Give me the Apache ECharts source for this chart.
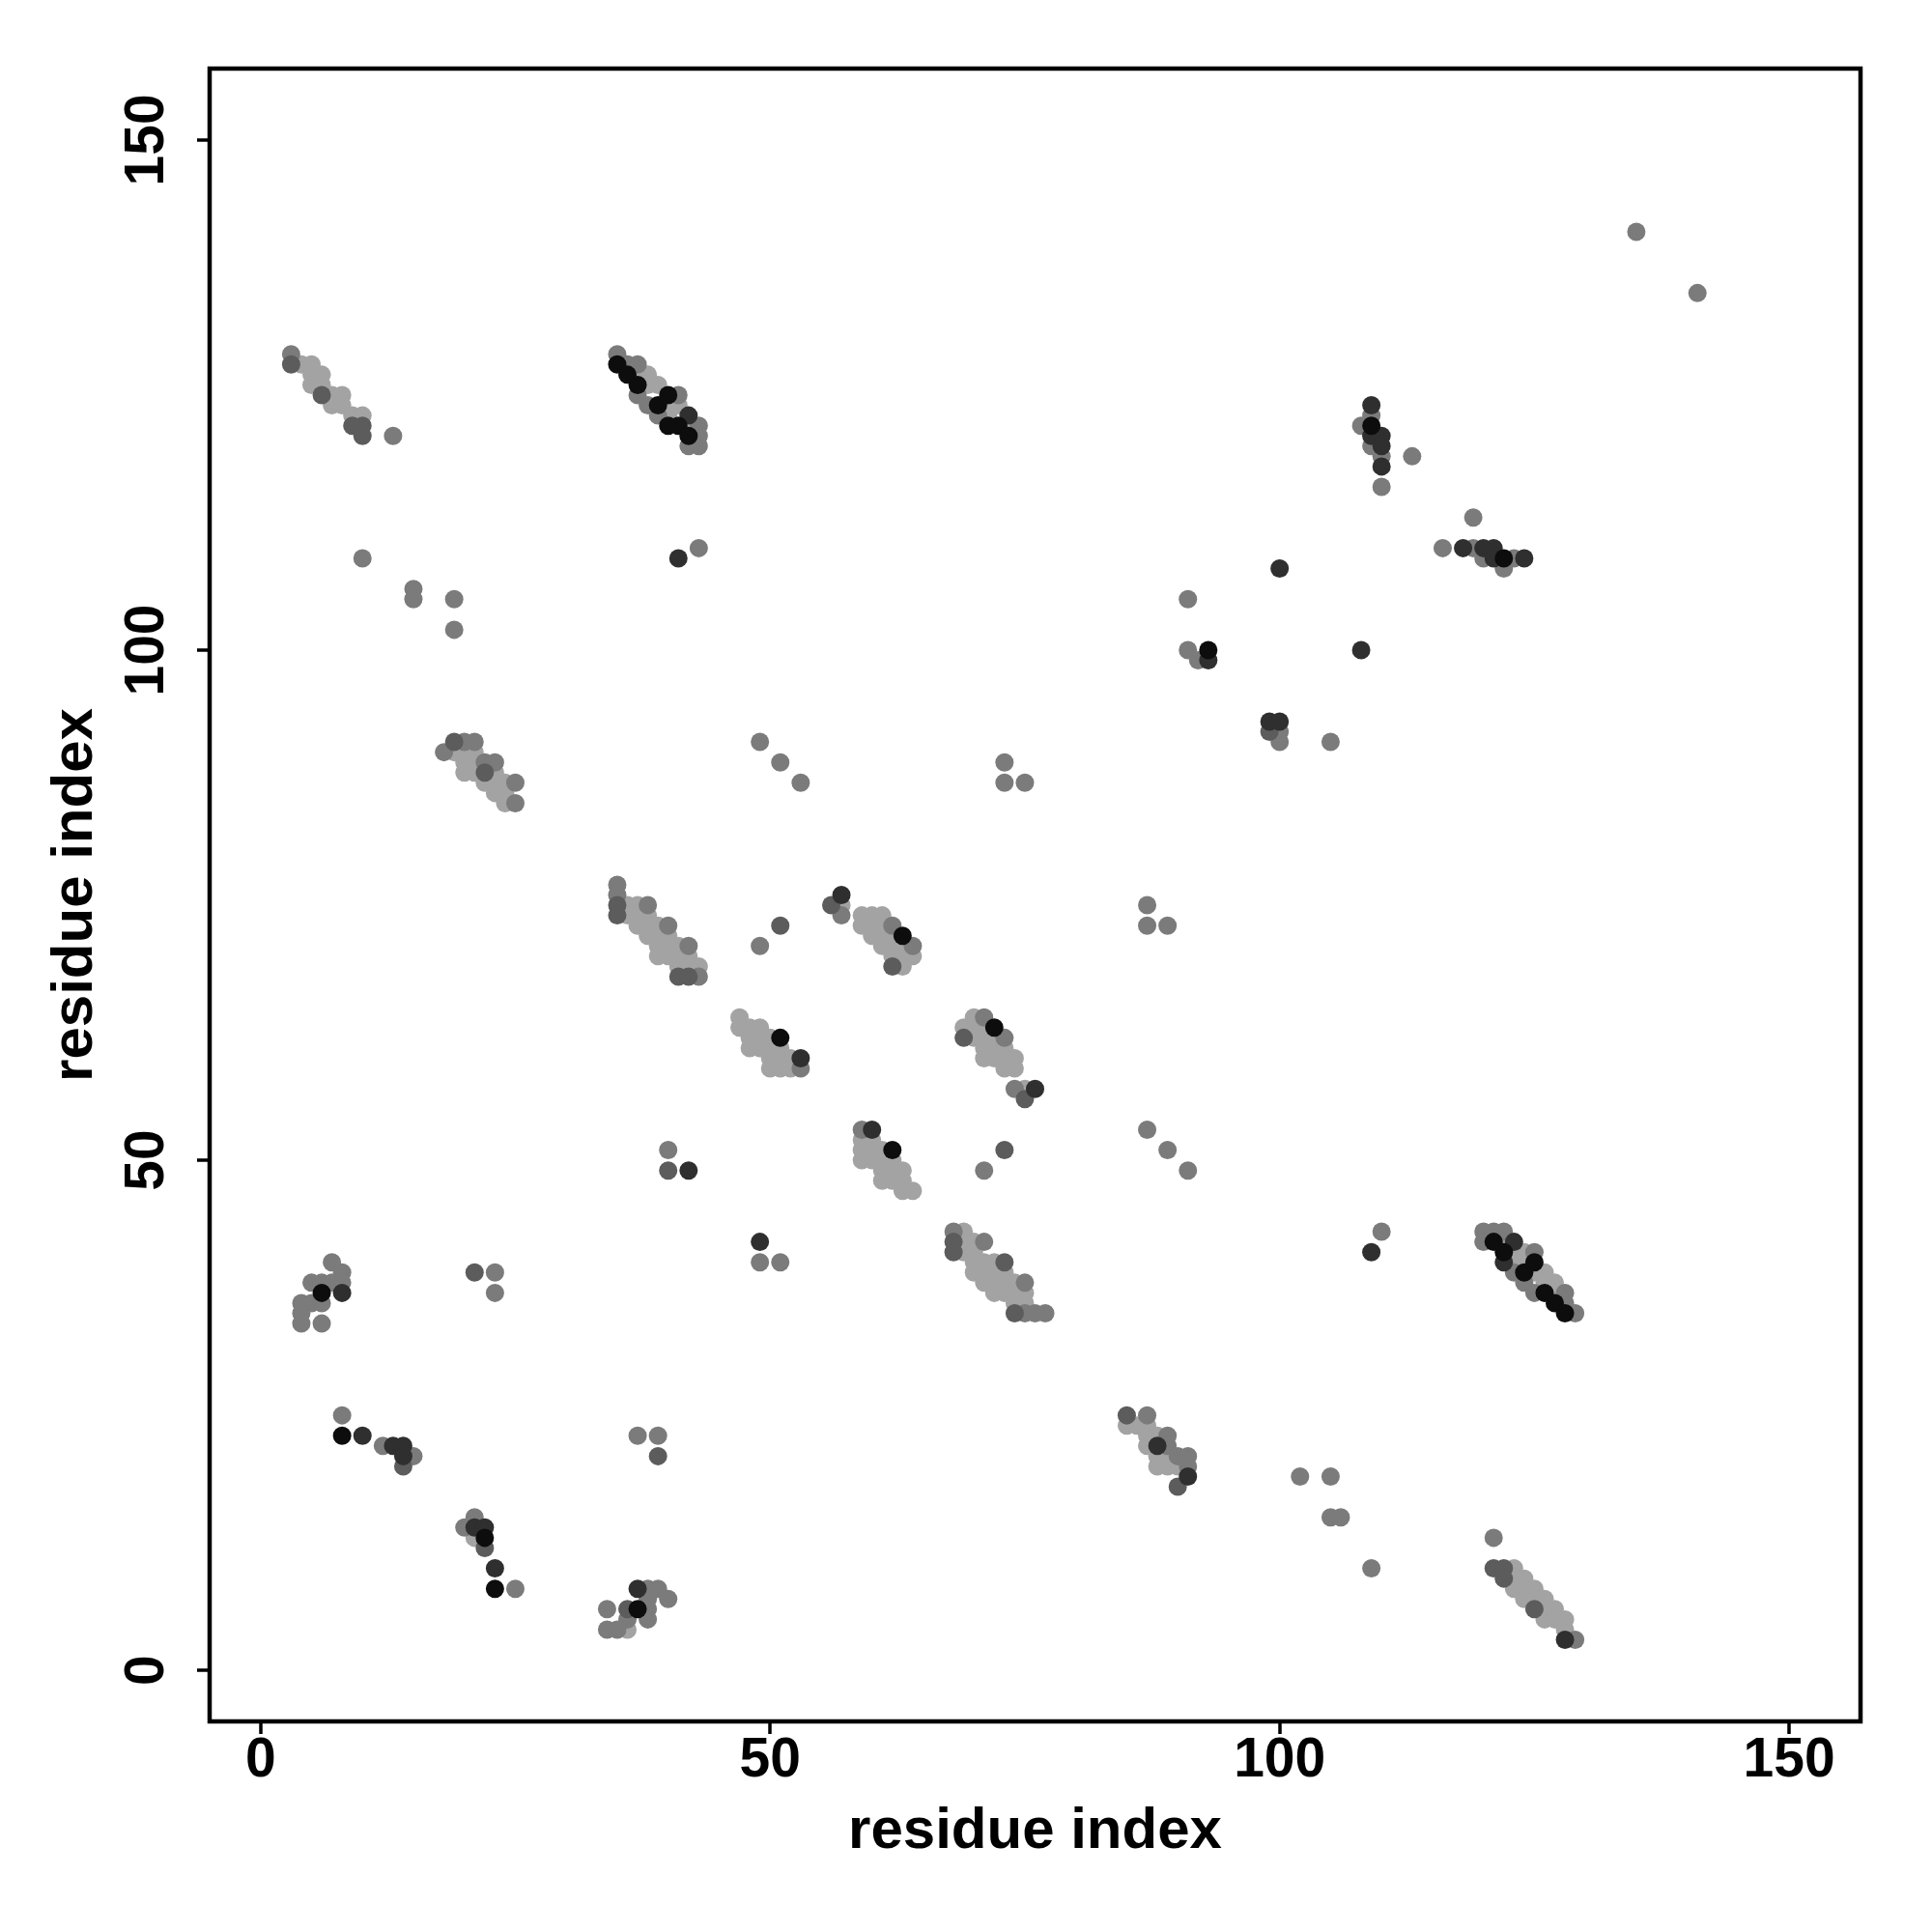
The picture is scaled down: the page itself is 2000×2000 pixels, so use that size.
<!DOCTYPE html>
<html>
<head>
<meta charset="utf-8">
<script src="https://cdn.jsdelivr.net/npm/echarts@6/dist/echarts.min.js"></script>
<style>html,body{margin:0;padding:0;background:#fff}#c{width:2000px;height:2000px}</style>
</head>
<body>
<div id="c"></div>
<script>
// contact points [i, j] grouped by shade
const lightPts = [
 [4,128],[5,128],[5,127],[6,127],[5,126],[6,126],[7,125],[8,125],[7,124],[8,124],[9,123],[10,123],
 [37,127],[38,127],[38,126],[39,126],[40,124],[40,123],[41,124],[42,122],
 [20,90],[21,90],[19,90],[20,89],[21,89],[20,88],[21,88],[23,88],[22,87],[23,87],[24,87],[24,86],[23,86],[24,85],
 [36,75],[37,75],[36,74],[37,74],[38,74],[37,73],[38,73],[39,73],[38,72],[39,72],[40,72],[39,71],[40,71],[41,71],[39,70],[40,70],[41,70],[42,70],[41,69],[42,69],[43,69],
 [57,75],[59,74],[60,74],[61,74],[59,73],[60,73],[61,73],[60,72],[61,72],[62,72],[61,71],[62,71],[63,71],[62,70],[63,70],[64,70],[63,69],
 [47,64],[47,63],[48,63],[49,63],[48,62],[49,62],[50,62],[48,61],[49,61],[50,61],[51,61],[50,60],[51,60],[52,60],[50,59],[51,59],[52,59],
 [70,64],[69,63],[70,63],[71,63],[70,62],[71,62],[72,62],[71,61],[72,61],[73,61],[71,60],[72,60],[73,60],[74,60],[73,59],[74,59],[75,57],
 [59,52],[60,52],[59,51],[60,51],[61,51],[59,50],[60,50],[61,50],[62,50],[61,49],[62,49],[63,49],[61,48],[62,48],[63,48],[63,47],[64,47],
 [69,43],[69,42],[70,42],[69,41],[70,41],[70,40],[71,40],[72,40],[70,39],[71,39],[72,39],[73,39],[71,38],[72,38],[73,38],[74,38],[72,37],[73,37],[74,37],[75,37],[74,36],[75,36],
 [122,42],[123,41],[124,41],[123,40],[124,40],[125,39],[126,39],[126,38],[127,38],[127,37],
 [21,13],[36,4],
 [85,24],[86,24],[87,24],[87,23],[88,23],[87,22],[88,21],[89,21],[88,20],[89,20],[90,20],
 [123,10],[123,9],[124,9],[123,8],[124,8],[125,8],[124,7],[125,7],[126,7],[126,6],[127,6],[126,5],[127,5],[128,5],[128,4]
];
const greyPts = [
 [3,129],[13,121],
 [35,129],[36,128],[37,128],[37,125],[38,124],[39,123],[41,125],[43,122],[43,121],[42,120],[43,120],
 [10,109],[15,106],[15,105],[19,105],[19,102],[43,110],
 [109,123],[108,122],[109,120],[110,119],[110,116],[113,119],[119,113],[116,110],[119,110],[120,109],[123,109],[122,108],
 [135,141],[141,135],
 [91,105],[91,100],[92,99],[100,92],[100,91],[105,91],
 [18,90],[20,91],[21,91],[22,89],[23,89],[25,87],[25,85],
 [49,91],[51,89],[53,87],[73,89],[73,87],[75,87],
 [35,77],[35,76],[38,75],[40,73],[42,71],[43,68],[49,71],
 [57,74],[62,73],[64,71],[87,75],[87,73],[89,73],
 [53,59],[71,64],[73,62],[74,57],[59,53],[71,49],[87,53],[89,51],[91,49],[40,51],[49,40],[51,40],
 [68,43],[71,42],[75,38],[75,35],[76,35],[77,35],
 [120,43],[121,43],[122,43],[120,42],[125,41],[123,39],[124,38],[125,37],[128,37],[128,36],[129,35],[110,43],
 [7,40],[8,39],[5,38],[6,38],[7,38],[8,38],[4,36],[5,36],[6,36],[4,35],[4,34],[6,34],
 [23,39],[23,37],[8,25],[12,22],[15,21],[21,15],[20,14],[25,8],[37,23],[39,23],
 [38,8],[39,8],[40,7],[38,7],[38,6],[38,5],[34,6],[36,5],[34,4],[35,4],
 [87,25],[89,23],[89,22],[90,21],[91,21],[91,20],
 [102,19],[105,19],[105,15],[106,15],[109,10],
 [121,13],[129,3]
];
const darkGreyPts = [
 [3,128],[6,125],[9,122],[10,122],[10,121],
 [99,92],[19,91],[22,88],[35,75],[35,74],[51,73],[56,75],[62,69],[41,68],[42,68],
 [69,62],[75,56],[73,51],[40,49],[68,42],[68,41],[73,40],[74,35],
 [21,39],[14,20],[22,12],[39,21],[36,6],[85,25],[90,18],
 [121,10],[122,10],[122,9],[125,6]
];
const darkPts = [
 [42,123],
 [109,124],[110,121],[109,121],[110,120],[110,118],[118,110],[120,110],[121,110],[121,109],[124,109],
 [100,108],[93,99],[108,100],[99,93],[100,93],[41,109],
 [57,76],[76,57],[60,53],[53,60],[42,49],[49,42],
 [8,37],[10,23],[13,22],[14,22],[14,21],[21,14],[22,14],[23,10],[37,8],
 [123,42],[122,40],[128,3],[109,41],[88,22],[91,19]
];
const blackPts = [
 [35,128],[36,127],[37,126],[39,124],[40,125],[40,122],[41,122],[42,121],
 [109,122],[122,109],[93,100],
 [63,72],[72,63],[51,62],[62,51],
 [6,37],[8,23],[22,13],[23,8],[37,6],
 [121,42],[122,41],[124,39],[126,37],[127,36],[128,35],[125,40]
];
const tickValues = [0, 50, 100, 150];
const axisTitle = 'residue index';

const shades = [
  [lightPts, '#a3a3a3'],
  [greyPts, '#7b7b7b'],
  [darkGreyPts, '#5c5c5c'],
  [darkPts, '#2f2f2f'],
  [blackPts, '#0d0d0d']
];

const font = 'Liberation Sans, Arial, Helvetica, sans-serif';
const chart = echarts.init(document.getElementById('c'), null, {renderer: 'canvas'});
const axisCommon = {
  type: 'value',
  min: -5, max: 157,
  splitLine: {show: false},
  axisLine: {show: false, onZero: false},
  axisTick: {show: true, customValues: tickValues, length: 13, lineStyle: {color: '#000', width: 3.5}},
  name: axisTitle,
  nameLocation: 'middle',
  nameTextStyle: {fontFamily: font, fontWeight: 'bold', fontSize: 60, color: '#000'}
};
chart.setOption({
  backgroundColor: '#fff',
  animation: false,
  grid: {left: 217, top: 71, width: 1709, height: 1711, show: true, borderColor: '#000', borderWidth: 4.5, backgroundColor: 'transparent'},
  xAxis: Object.assign({}, axisCommon, {
    position: 'bottom',
    nameGap: 84,
    axisLabel: {customValues: tickValues, margin: 13, fontFamily: font, fontWeight: 'bold', fontSize: 57, color: '#000'}
  }),
  yAxis: Object.assign({}, axisCommon, {
    position: 'left',
    nameGap: 109,
    axisLabel: {customValues: tickValues, rotate: 90, margin: 35, fontFamily: font, fontWeight: 'bold', fontSize: 57, color: '#000'}
  }),
  series: shades.map(([pts, color]) => ({
    type: 'scatter',
    data: pts,
    symbol: 'circle',
    symbolSize: 19,
    itemStyle: {color: color, opacity: 1},
    emphasis: {disabled: true}
  }))
});
</script>
</body>
</html>
